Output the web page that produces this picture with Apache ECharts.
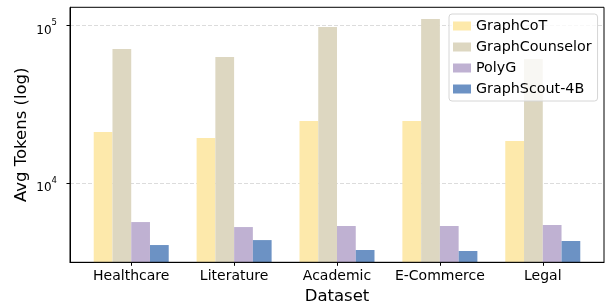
<!DOCTYPE html>
<html>
<head>
<meta charset="utf-8">
<script src="https://cdn.jsdelivr.net/npm/echarts@6/dist/echarts.min.js"></script>
<style>
html,body{margin:0;padding:0;background:#fff;}
#chart{width:609px;height:305px;}
</style>
</head>
<body>
<div id="chart"></div>
<script>
const categories = ['Healthcare', 'Literature', 'Academic', 'E-Commerce', 'Legal'];
const seriesNames = ['GraphCoT', 'GraphCounselor', 'PolyG', 'GraphScout-4B'];
const graphCoT = [21200, 19400, 24900, 24900, 18550];
const graphCounselor = [71100, 63300, 98100, 110300, 61500];
const polyG = [5680, 5280, 5360, 5360, 5440];
const graphScout4B = [4060, 4365, 3775, 3720, 4305];
const yMin = 3155;
const yMax = 130900;
const yTickValues = [10000, 100000];
const yTickExponents = ['4', '5'];

const colors = ['#FDE9AB', '#DDD7C1', '#BFB1D2', '#6C92C4'];
const values = [graphCoT, graphCounselor, polyG, graphScout4B];
const FONT = 'DejaVu Sans';

// log10 positions on a value axis (log scale)
const lg = v => Math.log10(v);
const yTickPos = yTickValues.map(lg);
const catPos = categories.map((c, i) => i);

function yLabel(v) {
  for (let i = 0; i < yTickPos.length; i++) {
    if (Math.abs(v - yTickPos[i]) < 1e-6) return '{b|10}{s|' + yTickExponents[i] + '}';
  }
  return '';
}

const chart = echarts.init(document.getElementById('chart'), null, {renderer: 'canvas'});
chart.setOption({
  animation: false,
  backgroundColor: '#fff',
  textStyle: {fontFamily: FONT},
  grid: {left: 70, top: 7.3, width: 534, height: 255, show: true, borderColor: '#000', borderWidth: 1,
    z: 10, backgroundColor: 'transparent', outerBoundsMode: 'none', containLabel: false},
  xAxis: {
    type: 'value', min: -0.595, max: 4.595,
    axisLine: {show: true, onZero: false, lineStyle: {color: '#000', width: 1}},
    splitLine: {show: false},
    axisTick: {show: true, length: 3.5, lineStyle: {color: '#000', width: 1}, customValues: catPos},
    axisLabel: {fontFamily: FONT, fontSize: 14, color: '#000', margin: 7.3, customValues: catPos,
      formatter: v => categories[Math.round(v)] || ''},
    name: 'Dataset', nameLocation: 'middle', nameGap: 25.7, nameMoveOverlap: false,
    nameTextStyle: {fontFamily: FONT, fontSize: 16.5, color: '#000'}
  },
  yAxis: {
    type: 'value', min: lg(yMin), max: lg(yMax),
    axisLine: {show: true, onZero: false, lineStyle: {color: '#000', width: 1}},
    axisTick: {show: true, length: 3.5, lineStyle: {color: '#000', width: 1}, customValues: yTickPos},
    axisLabel: {fontFamily: FONT, color: '#000', margin: 13, customValues: yTickPos, formatter: yLabel,
      padding: [4, 0, 0, 0],
      rich: {
        b: {fontFamily: FONT, fontSize: 12, color: '#000', lineHeight: 18, verticalAlign: 'bottom'},
        s: {fontFamily: FONT, fontSize: 8.5, color: '#000', lineHeight: 9, verticalAlign: 'top'}
      }},
    splitLine: {show: true, lineStyle: {color: '#dcdcdc', type: [4, 2], width: 1}},
    name: 'Avg Tokens (log)', nameLocation: 'middle', nameGap: 39.5, nameRotate: 90, nameMoveOverlap: false,
    nameTextStyle: {fontFamily: FONT, fontSize: 16.5, color: '#000'}
  },
  legend: {
    orient: 'vertical', left: 449, top: 14,
    itemWidth: 18, itemHeight: 9, itemGap: 7,
    padding: [5, 6, 5, 4],
    backgroundColor: 'rgba(255,255,255,0.8)',
    borderColor: '#d6d6d6', borderWidth: 1, borderRadius: 3,
    textStyle: {fontFamily: FONT, fontSize: 14.3, color: '#000'},
    icon: 'rect',
    data: seriesNames
  },
  series: seriesNames.map((n, i) => ({
    name: n, type: 'bar',
    data: values[i].map((v, j) => [catPos[j], lg(v)]),
    barWidth: 18.75, barGap: '0%',
    clip: true,
    itemStyle: {color: colors[i]},
    emphasis: {disabled: true}
  }))
});
</script>
</body>
</html>
